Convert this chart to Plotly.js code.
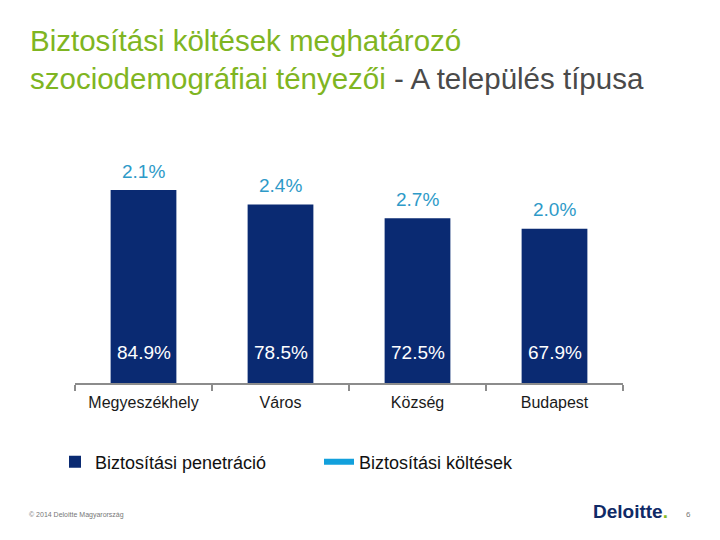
<!DOCTYPE html>
<html>
<head>
<meta charset="utf-8">
<script src="https://cdn.plot.ly/plotly-3.0.1.min.js"></script>
<style>
  html, body { margin: 0; padding: 0; background: #ffffff; }
  #chart { width: 720px; height: 540px; }
</style>
</head>
<body>
<div id="chart"></div>
<script>
// ---- Data ----
const categories = ['Megyeszékhely', 'Város', 'Község', 'Budapest'];
const penetracio = [84.9, 78.5, 72.5, 67.9];   // Biztosítási penetráció (%)
const koltesek = [2.1, 2.4, 2.7, 2.0];         // Biztosítási költések (%)
const seriesNames = ['Biztosítási penetráció', 'Biztosítási költések'];

const FONT = 'Liberation Sans, Arial, Helvetica, sans-serif';
const NAVY = '#0a2a72';
const LIGHTBLUE = '#12a0dc';
const LABELBLUE = '#2e9ac8';

// plot area in pixels (for converting legend/footer positions to paper coords)
const PL = 75, PR = 623, PT = 150, PB = 383;
const px2x = p => (p - PL) / (PR - PL);
const px2y = p => (PB - p) / (PB - PT);

const traces = [
  {
    type: 'bar',
    name: seriesNames[0],
    x: categories,
    y: penetracio,
    marker: { color: NAVY },
    width: 0.48,
    hoverinfo: 'x+y'
  },
  {
    type: 'scatter',
    mode: 'lines',
    name: seriesNames[1],
    x: [null],
    y: [null],
    line: { color: LIGHTBLUE, width: 6 },
    showlegend: true,
    hoverinfo: 'skip'
  }
];

// value labels built from the data arrays, positioned through the axes
const valueLabels = [];
categories.forEach((c, i) => {
  valueLabels.push({
    xref: 'x', yref: 'y',
    x: c, y: 0,
    yanchor: 'middle', yshift: 31,
    text: penetracio[i].toFixed(1) + '%',
    showarrow: false,
    font: { family: FONT, size: 19, color: '#ffffff' }
  });
  valueLabels.push({
    xref: 'x', yref: 'y',
    x: c, y: penetracio[i],
    yanchor: 'middle', yshift: 19,
    text: koltesek[i].toFixed(1) + '%',
    showarrow: false,
    font: { family: FONT, size: 19, color: LABELBLUE }
  });
});

const footer = [
  {
    xref: 'paper', yref: 'paper',
    x: px2x(27), y: px2y(515),
    xanchor: 'left', yanchor: 'middle',
    text: '© 2014 Deloitte Magyarország',
    showarrow: false,
    font: { family: FONT, size: 7, color: '#777777' }
  },
  {
    xref: 'paper', yref: 'paper',
    x: px2x(591), y: px2y(512),
    xanchor: 'left', yanchor: 'middle',
    text: '<b>Deloitte</b><b><span style="color:#86bc25">.</span></b>',
    showarrow: false,
    font: { family: FONT, size: 19, color: '#0f2a66' }
  },
  {
    xref: 'paper', yref: 'paper',
    x: px2x(688), y: px2y(514),
    xanchor: 'center', yanchor: 'middle',
    text: '6',
    showarrow: false,
    font: { family: FONT, size: 8, color: '#777777' }
  }
];

const layout = {
  width: 720,
  height: 540,
  paper_bgcolor: '#ffffff',
  plot_bgcolor: '#ffffff',
  margin: { l: PL, r: 720 - PR, t: PT, b: 540 - PB },
  font: { family: FONT, color: '#1a1a1a' },
  title: {
    text: '<span style="color:#7fb522">Biztosítási költések meghatározó<br>szociodemográfiai tényezői</span><span style="color:#4a4a4a"> - A település típusa</span>',
    font: { family: FONT, size: 29.5, color: '#7fb522' },
    x: 30 / 720,
    xanchor: 'left',
    xref: 'container',
    y: 1 - 51 / 540,
    yanchor: 'top',
    yref: 'container'
  },
  xaxis: {
    type: 'category',
    showline: true,
    linecolor: '#8c8c8c',
    linewidth: 2,
    ticks: 'outside',
    tickson: 'boundaries',
    ticklen: 6,
    tickwidth: 2,
    tickcolor: '#8c8c8c',
    ticklabelstandoff: 4,
    tickfont: { family: FONT, size: 16, color: '#1a1a1a' },
    showgrid: false,
    zeroline: false,
    fixedrange: true
  },
  yaxis: {
    range: [0, 102.5],
    visible: false,
    showgrid: false,
    zeroline: false,
    fixedrange: true
  },
  showlegend: true,
  legend: {
    orientation: 'h',
    xref: 'paper',
    yref: 'paper',
    x: px2x(55),
    xanchor: 'left',
    y: px2y(462),
    yanchor: 'middle',
    font: { family: FONT, size: 18, color: '#111111' },
    entrywidth: 219,
    entrywidthmode: 'pixels',
    bgcolor: 'rgba(0,0,0,0)'
  },
  annotations: valueLabels.concat(footer),
  bargap: 0.52
};

Plotly.newPlot('chart', traces, layout, { displayModeBar: false, staticPlot: true });
</script>
</body>
</html>
